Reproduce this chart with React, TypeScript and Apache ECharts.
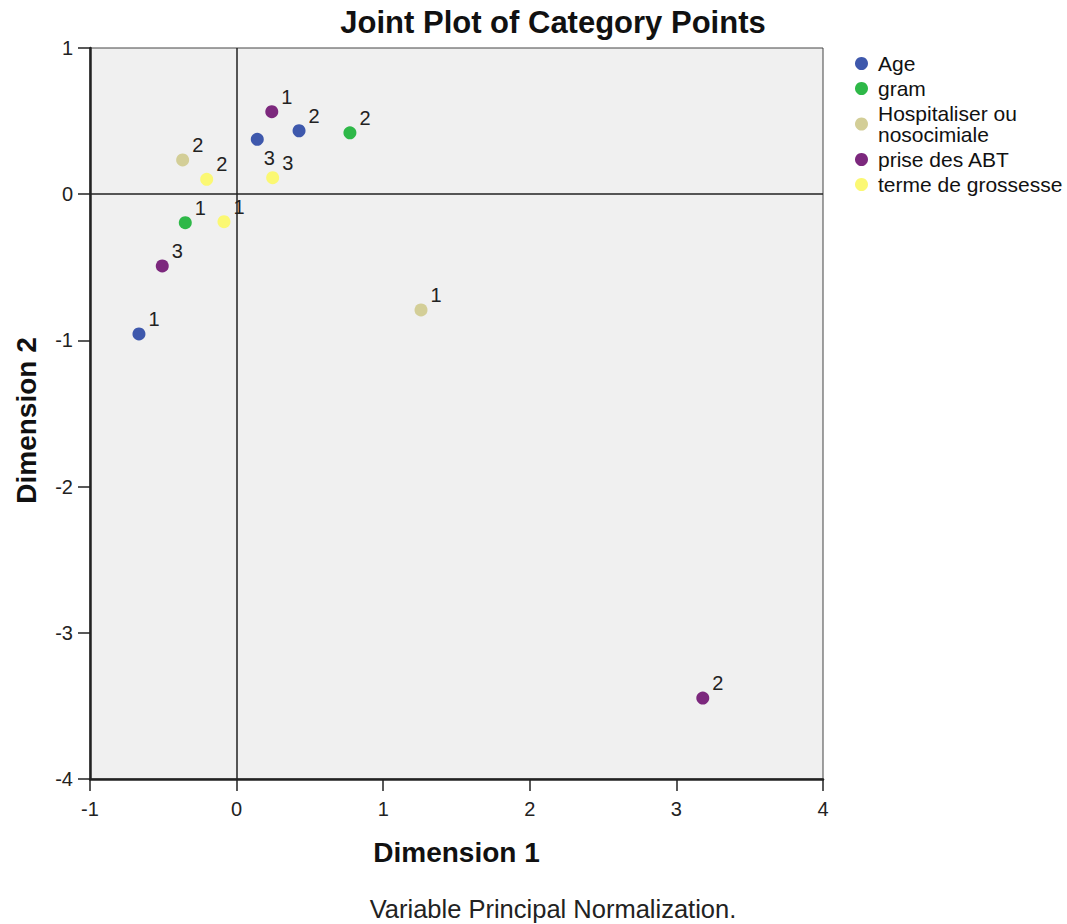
import React, { useEffect, useRef } from "react";
import * as echarts from "echarts";

const FONT = "'Liberation Sans', Arial, Helvetica, sans-serif";

const seriesNames = ["Age", "gram", "Hospitaliser ou\nnosocimiale", "prise des ABT", "terme de grossesse"];
const seriesColors = ["#3E58AC", "#2EB848", "#D3CE97", "#7C287D", "#FBF873"];

// [dimension1, dimension2, category label]
const agePoints: [number, number, string][] = [
  [-0.666, -0.956, "1"],
  [0.426, 0.434, "2"],
  [0.141, 0.375, "3"],
];
const gramPoints: [number, number, string][] = [
  [-0.35, -0.195, "1"],
  [0.773, 0.42, "2"],
];
const hospPoints: [number, number, string][] = [
  [1.258, -0.792, "1"],
  [-0.368, 0.234, "2"],
];
const prisePoints: [number, number, string][] = [
  [0.24, 0.564, "1"],
  [3.18, -3.446, "2"],
  [-0.507, -0.491, "3"],
];
const termePoints: [number, number, string][] = [
  [-0.086, -0.188, "1"],
  [-0.204, 0.102, "2"],
  [0.246, 0.113, "3"],
];

const allPoints = [agePoints, gramPoints, hospPoints, prisePoints, termePoints];

const xTicks = [-1, 0, 1, 2, 3, 4];
const yTicks = [-4, -3, -2, -1, 0, 1];

export default function App() {
  const ref = useRef<HTMLDivElement>(null);

  useEffect(() => {
    if (!ref.current) return;
    const chart = echarts.init(ref.current, null, { renderer: "svg" });

    const series: any[] = allPoints.map((pts, si) => ({
      name: seriesNames[si],
      type: "scatter",
      symbol: "circle",
      symbolSize: 13,
      itemStyle: { color: seriesColors[si], opacity: 1 },
      label: {
        show: true,
        position: "right",
        distance: 3,
        offset: [0, -15],
        formatter: (p: any) => p.value[2],
        fontFamily: FONT,
        fontSize: 20,
        color: "#222",
      },
      data: pts.map((p) => {
        const item: any = { value: p };
        if (si === 0 && p[2] === "3") {
          item.label = { offset: [-3, 19] };
        }
        return item;
      }),
      ...(si === 0
        ? {
            markLine: {
              silent: true,
              symbol: "none",
              animation: false,
              label: { show: false },
              lineStyle: { color: "#222", width: 1.5, type: "solid" },
              data: [{ xAxis: 0 }, { yAxis: 0 }],
            },
          }
        : {}),
    }));

    chart.setOption({
      animation: false,
      backgroundColor: "#ffffff",
      graphic: [
        {
          type: "text",
          x: 553,
          y: 22,
          style: {
            text: "Joint Plot of Category Points",
            font: `bold 31px ${FONT}`,
            fill: "#111",
            align: "center",
            verticalAlign: "middle",
          },
        },
        {
          type: "text",
          x: 553,
          y: 909,
          style: {
            text: "Variable Principal Normalization.",
            font: `25.5px ${FONT}`,
            fill: "#222",
            align: "center",
            verticalAlign: "middle",
          },
        },
      ],
      legend: {
        orient: "vertical",
        left: 850,
        top: 48,
        itemWidth: 13,
        itemHeight: 13,
        itemGap: 4,
        icon: "circle",
        data: seriesNames,
        textStyle: {
          fontFamily: FONT,
          fontSize: 21,
          lineHeight: 21,
          color: "#111",
          padding: [0, 0, 0, 5],
        },
      },
      grid: {
        left: 90,
        right: 244,
        top: 48,
        bottom: 145,
        show: true,
        backgroundColor: "#f0f0f0",
        borderColor: "#444",
        borderWidth: 1,
      },
      xAxis: {
        type: "value",
        min: xTicks[0],
        max: xTicks[xTicks.length - 1],
        interval: 1,
        name: "Dimension 1",
        nameLocation: "middle",
        nameGap: 59,
        nameTextStyle: { fontFamily: FONT, fontSize: 28, fontWeight: "bold", color: "#111" },
        axisLine: { show: true, onZero: false, lineStyle: { color: "#222", width: 2.5 } },
        axisTick: { show: true, length: 12, lineStyle: { color: "#222", width: 1.5 } },
        axisLabel: { margin: 20, fontFamily: FONT, fontSize: 20, color: "#222" },
        splitLine: { show: false },
      },
      yAxis: {
        type: "value",
        min: yTicks[0],
        max: yTicks[yTicks.length - 1],
        interval: 1,
        name: "Dimension 2",
        nameLocation: "middle",
        nameGap: 50,
        nameRotate: 90,
        nameTextStyle: {
          fontFamily: FONT,
          fontSize: 28,
          fontWeight: "bold",
          color: "#111",
          padding: [0, 14, 0, 0],
        },
        axisLine: { show: true, onZero: false, lineStyle: { color: "#222", width: 2.5 } },
        axisTick: { show: true, length: 12, lineStyle: { color: "#222", width: 1.5 } },
        axisLabel: { margin: 17, fontFamily: FONT, fontSize: 20, color: "#222" },
        splitLine: { show: false },
      },
      series,
    });

    return () => chart.dispose();
  }, []);

  return (
    <div
      ref={ref}
      style={{ position: "fixed", left: 0, top: 0, width: 1067, height: 924 }}
    />
  );
}
